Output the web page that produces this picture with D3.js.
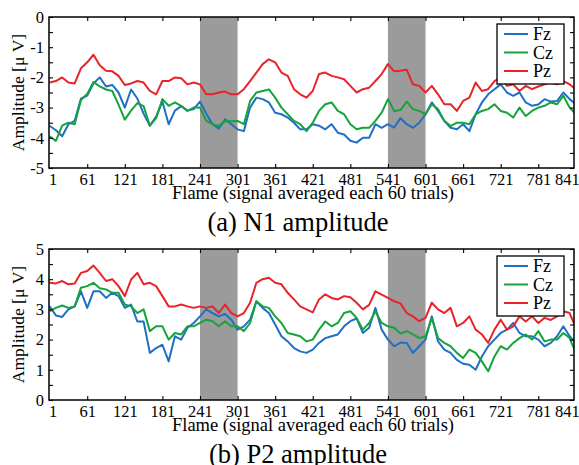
<!DOCTYPE html>
<html>
<head>
<meta charset="utf-8">
<script src="https://cdn.jsdelivr.net/npm/d3@7"></script>
<style>
html,body{margin:0;padding:0;background:#fff;}
svg{display:block;}
text{font-family:"Liberation Serif","Times New Roman",serif;fill:#000;}
</style>
</head>
<body>
<svg id="chart" width="579" height="465"></svg>
<script>
// ---------- DATA ----------
const frames = [1,11,21,31,41,51,61,71,81,91,101,111,121,131,141,151,161,171,181,191,201,211,221,231,241,251,261,271,
  281,291,301,311,321,331,341,351,361,371,381,391,401,411,421,431,441,451,461,471,481,491,501,511,521,531,541,551,
  561,571,581,591,601,611,621,631,641,651,661,671,681,691,701,711,721,731,741,751,761,771,781,791,801,811,821,831,841];

const seriesNames = ["Fz","Cz","Pz"];
const seriesColors = ["#1f6fc5","#15a33b","#e8232a"];

// (a) N1 amplitude
const n1Fz = [-3.6,-3.75,-3.95,-3.55,-3.44,-2.7,-2.6,-2.2,-2.0,-2.3,-2.25,-2.5,-3.0,-2.4,-2.7,-3.2,-3.6,-3.3,-2.8,-3.55,-3.1,-2.95,-3.1,-3.05,-2.8,-3.2,-3.55,-3.7,
  -3.39,-3.55,-3.72,-3.78,-3.0,-2.67,-2.72,-2.83,-3.17,-3.22,-3.33,-3.5,-3.72,-3.72,-3.55,-3.6,-3.72,-3.55,-3.83,-3.89,-4.1,-4.16,-4.0,-4.0,-3.55,-3.67,-3.55,-3.66,
  -3.35,-3.55,-3.67,-3.5,-3.22,-2.83,-3.11,-3.44,-3.67,-3.72,-3.55,-3.78,-3.22,-2.83,-2.56,-2.39,-2.23,-2.5,-2.61,-2.5,-2.83,-2.94,-2.9,-2.72,-2.8,-2.78,-2.5,-2.72,-2.89];
const n1Cz = [-3.95,-4.1,-3.6,-3.5,-3.55,-2.75,-2.55,-2.15,-2.3,-2.4,-2.45,-2.9,-3.4,-3.1,-2.85,-2.95,-3.6,-3.35,-2.72,-2.94,-2.83,-2.94,-3.11,-3.0,-3.0,-3.44,-3.55,-3.61,
  -3.44,-3.45,-3.44,-3.55,-2.78,-2.5,-2.45,-2.4,-2.67,-3.0,-3.22,-3.44,-3.55,-3.78,-3.5,-3.11,-2.89,-2.83,-3.11,-3.22,-3.55,-3.72,-3.67,-3.67,-3.44,-3.17,-2.72,-3.11,
  -3.08,-2.8,-3.05,-3.11,-3.22,-2.89,-3.05,-3.44,-3.61,-3.5,-3.5,-3.55,-3.22,-3.11,-3.05,-2.89,-3.11,-3.17,-3.33,-3.0,-3.28,-3.11,-3.0,-2.94,-2.83,-2.89,-2.61,-3.0,-3.22];
const n1Pz = [-2.17,-2.12,-2.0,-2.17,-2.2,-1.7,-1.5,-1.25,-1.6,-1.78,-1.8,-1.95,-2.25,-2.2,-2.12,-2.17,-2.45,-2.56,-2.12,-2.12,-2.0,-2.03,-2.23,-2.17,-2.23,-2.56,-2.56,-2.5,
  -2.47,-2.56,-2.56,-2.39,-2.12,-1.84,-1.56,-1.4,-1.5,-1.84,-1.95,-2.39,-2.56,-2.67,-2.45,-1.89,-1.84,-1.95,-2.0,-2.06,-2.28,-2.5,-2.39,-2.34,-2.12,-1.89,-1.56,-1.8,
  -1.78,-1.75,-2.23,-2.28,-2.5,-2.28,-2.56,-2.89,-2.89,-3.11,-2.78,-2.67,-2.17,-2.45,-2.39,-2.12,-2.0,-2.28,-2.23,-2.45,-2.28,-2.39,-2.3,-2.23,-2.17,-2.23,-2.12,-2.23,-2.4];

// (b) P2 amplitude
const p2Fz = [3.1,2.8,2.75,3.0,3.1,3.6,3.05,3.6,3.6,3.38,3.55,3.44,3.05,3.16,2.6,2.6,1.56,1.72,1.83,1.28,2.11,2.0,2.39,2.55,2.77,3.0,2.88,2.77,
  2.85,2.66,2.33,2.44,2.66,3.27,3.05,2.88,2.5,2.11,1.94,1.72,1.61,1.56,1.67,1.89,2.05,2.11,2.17,2.44,2.61,2.7,2.22,2.39,3.05,2.33,2.0,1.78,
  1.9,1.89,1.56,1.78,2.0,2.77,1.94,1.67,1.56,1.33,1.2,1.17,1.0,1.44,1.78,2.0,2.22,2.33,2.55,2.22,2.11,2.11,2.0,1.78,1.89,2.11,2.44,2.11,1.89];
const p2Cz = [2.94,3.05,3.13,3.05,3.1,3.72,3.77,3.88,3.7,3.66,3.55,3.55,3.16,3.1,2.88,3.0,2.28,2.44,2.44,2.0,2.22,2.17,2.44,2.44,2.55,2.66,2.61,2.44,
  2.61,2.44,2.44,2.28,2.55,3.27,3.1,3.05,2.77,2.55,2.22,2.17,2.11,1.94,2.0,2.33,2.6,2.44,2.55,2.88,2.94,2.72,2.33,2.55,2.94,2.55,2.44,2.39,
  2.2,2.28,2.17,2.05,2.1,2.72,2.05,1.89,1.78,1.56,1.39,1.67,1.56,1.28,0.95,1.44,1.78,1.67,1.89,2.05,2.17,2.0,2.28,1.94,2.0,2.0,2.22,2.05,1.56];
const p2Pz = [3.88,3.86,3.94,3.83,3.86,4.21,4.27,4.45,4.21,3.94,4.0,3.77,3.44,3.99,4.21,3.83,3.88,3.77,3.44,3.1,3.1,3.16,3.1,3.05,3.1,3.05,3.1,2.88,
  3.16,2.88,2.77,2.88,3.22,3.88,4.0,4.05,3.88,3.83,3.55,3.33,3.1,3.0,2.9,3.33,3.5,3.38,3.33,3.44,3.4,3.22,3.0,3.15,3.6,3.49,3.38,3.27,
  3.2,2.88,2.77,2.61,2.72,3.22,3.0,2.88,3.05,2.44,2.55,2.77,2.33,2.17,1.89,2.33,2.66,2.33,2.44,2.77,2.6,2.77,2.55,2.72,2.65,2.77,2.94,2.88,2.39];

const xTickValues = [1,61,121,181,241,301,361,421,481,541,601,661,721,781,841];
const shadedRanges = [[241,301],[541,601]];
const xTitle = "Flame (signal averaged each 60 trials)";
const yTitle = "Amplitude [\u03bc V]";

const panels = [
  {caption:"(a) N1 amplitude", domain:[-5,0], top:17, bottom:168,
   majors:[0,-1,-2,-3,-4,-5], values:[n1Fz,n1Cz,n1Pz]},
  {caption:"(b) P2 amplitude", domain:[0,5], top:249, bottom:400,
   majors:[0,1,2,3,4,5], values:[p2Fz,p2Cz,p2Pz]}
];

// ---------- DRAW ----------
const svg = d3.select("#chart");
const left = 49, right = 574;
const x = d3.scaleLinear().domain([0,838]).range([left,right]);

panels.forEach((p,pi)=>{
  const y = d3.scaleLinear().domain(p.domain).range([p.bottom,p.top]);
  const g = svg.append("g");
  const clipId = "clip"+pi;
  svg.append("clipPath").attr("id",clipId).append("rect")
    .attr("x",left).attr("y",p.top).attr("width",right-left).attr("height",p.bottom-p.top);

  // shaded bands
  g.selectAll("rect.band").data(shadedRanges).join("rect").attr("class","band")
    .attr("x",d=>x(d[0])).attr("width",d=>x(d[1])-x(d[0]))
    .attr("y",p.top).attr("height",p.bottom-p.top).attr("fill","#9b9b9b");

  // lines
  const line = d3.line().x((d,i)=>x(frames[i])).y(d=>y(d));
  const lg = g.append("g").attr("clip-path",`url(#${clipId})`);
  p.values.forEach((vals,si)=>{
    lg.append("path").datum(vals).attr("d",line)
      .attr("fill","none").attr("stroke",seriesColors[si]).attr("stroke-width",2)
      .attr("stroke-linejoin","round");
  });

  // y ticks (major + half)
  const yt = d3.range(p.domain[0], p.domain[1]+0.001, 0.5);
  const fmtY = d=> Number.isInteger(d) ? String(d) : "";
  const yl = g.append("g").attr("transform",`translate(${left},0)`)
    .call(d3.axisLeft(y).tickValues(yt).tickSize(-4).tickPadding(5).tickFormat(fmtY));
  const yr = g.append("g").attr("transform",`translate(${right},0)`)
    .call(d3.axisRight(y).tickValues(yt).tickSize(-4).tickFormat(""));
  // x ticks
  const xb = g.append("g").attr("transform",`translate(0,${p.bottom})`)
    .call(d3.axisBottom(x).tickValues(xTickValues).tickSize(-4).tickPadding(5));
  const xt = g.append("g").attr("transform",`translate(0,${p.top})`)
    .call(d3.axisTop(x).tickValues(xTickValues).tickSize(-4).tickFormat(""));
  [yl,yr,xb,xt].forEach(a=>{
    a.select(".domain").remove();
    a.selectAll("line").attr("stroke","#000").attr("stroke-width",1.1);
    a.selectAll("text").attr("font-family",null).attr("font-size",16.5).attr("fill","#000")
      .style("font-family","'Liberation Serif','Times New Roman',serif");
  });
  [xb,xt].forEach(a=>a.selectAll(".tick").filter(d=>d===1||d===841).select("line").remove());
  xb.selectAll(".tick").filter(d=>d===1).select("text").attr("dx",3);
  xb.selectAll(".tick").filter(d=>d===841).select("text").attr("dx",-9);

  // frame
  g.append("rect").attr("x",left).attr("y",p.top).attr("width",right-left).attr("height",p.bottom-p.top)
    .attr("fill","none").attr("stroke","#000").attr("stroke-width",1.5);

  // axis titles
  g.append("text").attr("x",313).attr("y",p.bottom+31).attr("text-anchor","middle")
    .attr("font-size",18.5).text(xTitle);
  g.append("text").attr("transform",`translate(24,${(p.top+p.bottom)/2}) rotate(-90)`)
    .attr("text-anchor","middle").attr("font-size",17.5).text(yTitle);
  // caption
  g.append("text").attr("x",298).attr("y",p.bottom+63).attr("text-anchor","middle")
    .attr("font-size",26.5).text(p.caption);

  // legend
  const lgx = 497, lgy = p.top+7;
  const leg = g.append("g");
  leg.append("rect").attr("x",lgx).attr("y",lgy).attr("width",67).attr("height",60)
    .attr("fill","#fff").attr("stroke","#000").attr("stroke-width",1.3);
  seriesNames.forEach((n,i)=>{
    const yy = lgy + 10 + i*18.5;
    leg.append("line").attr("x1",lgx+7).attr("x2",lgx+31).attr("y1",yy).attr("y2",yy)
      .attr("stroke",seriesColors[i]).attr("stroke-width",2);
    leg.append("text").attr("x",lgx+36).attr("y",yy+6).attr("font-size",18).text(n);
  });
});
</script>
</body>
</html>
